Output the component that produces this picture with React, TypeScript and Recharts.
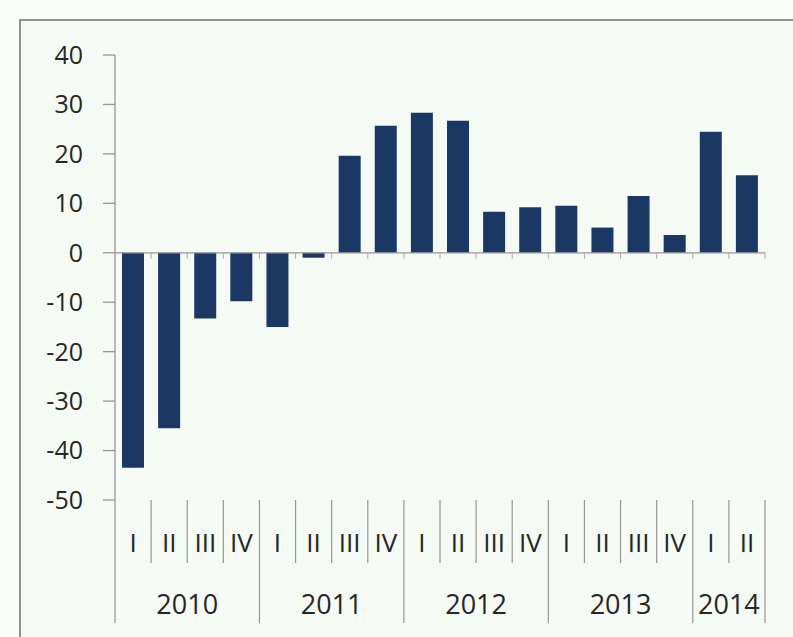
import { Bar, BarChart, ReferenceLine, XAxis, YAxis } from "recharts";

const quarters = ["I", "II", "III", "IV", "I", "II", "III", "IV", "I", "II", "III", "IV", "I", "II", "III", "IV", "I", "II"];
const yearLabels = ["2010", "2011", "2012", "2013", "2014"];
const yearSizes = [4, 4, 4, 4, 2];
const values = [-43.5, -35.5, -13.3, -9.8, -15, -1, 19.6, 25.7, 28.3, 26.7, 8.3, 9.2, 9.5, 5.1, 11.5, 3.6, 24.5, 15.7];
const yTicks = [-50, -40, -30, -20, -10, 0, 10, 20, 30, 40];

const data = quarters.map((q, i) => ({ key: `${i}`, quarter: q, value: values[i] }));

const W = 793;
const H = 637;
const margin = { top: 55, right: 28, left: 0, bottom: 7 };
const Y_AXIS_W = 115;
const X_AXIS_H = 130;
const BAND = (W - margin.left - margin.right - Y_AXIS_W) / quarters.length;

const AXIS_GRAY = "#969696";
const TEXT = "#262626";
const FONT = "Open Sans";

// first index of each year group
const yearStarts = yearSizes.map((_, i) => yearSizes.slice(0, i).reduce((a, b) => a + b, 0));

const QuarterTick = (props: any) => {
  const { x, y, index } = props;
  const yearIdx = yearStarts.indexOf(index);
  const isYearStart = yearIdx >= 0;
  const last = index === quarters.length - 1;
  const left = x - BAND / 2;
  return (
    <g>
      <line x1={left} y1={y} x2={left} y2={y + (isYearStart ? 123 : 63)} stroke={AXIS_GRAY} strokeWidth={1.2} />
      {last && (
        <line x1={x + BAND / 2} y1={y} x2={x + BAND / 2} y2={y + 123} stroke={AXIS_GRAY} strokeWidth={1.2} />
      )}
      <text x={x} y={y + 52} textAnchor='middle' fill={TEXT} style={{ fontFamily: FONT, fontSize: 26 }}>
        {quarters[index]}
      </text>
      {isYearStart && (
        <text
          x={left + (yearSizes[yearIdx] * BAND) / 2}
          y={y + 114}
          textAnchor='middle'
          fill={TEXT}
          style={{ fontFamily: FONT, fontSize: 27 }}>
          {yearLabels[yearIdx]}
        </text>
      )}
    </g>
  );
};

// zero line with the small category ticks hanging from it
const ZeroLine = (props: any) => {
  const { x1, y1, x2 } = props;
  const step = (x2 - x1) / quarters.length;
  return (
    <g>
      <line x1={x1} y1={y1} x2={x2} y2={y1} stroke={AXIS_GRAY} strokeWidth={1.3} />
      {quarters.map((_, i) => (
        <line
          key={i}
          x1={x1 + (i + 1) * step}
          y1={y1}
          x2={x1 + (i + 1) * step}
          y2={y1 + 6}
          stroke='#b8aaa0'
          strokeWidth={1}
        />
      ))}
    </g>
  );
};

export default function App() {
  return (
    <div style={{ position: "relative", width: W, height: H, background: "#fbfdfb", overflow: "hidden" }}>
      <style>{`body{margin:0}`}</style>
      <div
        style={{
          position: "absolute",
          left: 19,
          top: 19,
          right: 0,
          bottom: 0,
          borderTop: "2px solid #8e938e",
          borderLeft: "2px solid #8e938e",
          background: "#f5faf5",
        }}
      />
      <div style={{ position: "absolute", left: 0, top: 0 }}>
        <BarChart width={W} height={H} data={data} margin={margin}>
          <XAxis
            dataKey='key'
            height={X_AXIS_H}
            axisLine={false}
            tickLine={false}
            tickSize={0}
            tickMargin={0}
            interval={0}
            tick={<QuarterTick />}
          />
          <YAxis
            width={Y_AXIS_W}
            domain={[-50, 40]}
            ticks={yTicks}
            interval={0}
            tickSize={12}
            tickMargin={20}
            axisLine={{ stroke: AXIS_GRAY, strokeWidth: 1.3 }}
            tickLine={{ stroke: AXIS_GRAY, strokeWidth: 1.3 }}
            tick={{ fill: TEXT, fontSize: 25, fontFamily: FONT }}
          />
          <Bar dataKey='value' fill='#1b3864' barSize={22} isAnimationActive={false} />
          <ReferenceLine y={0} shape={<ZeroLine />} />
        </BarChart>
      </div>
    </div>
  );
}
